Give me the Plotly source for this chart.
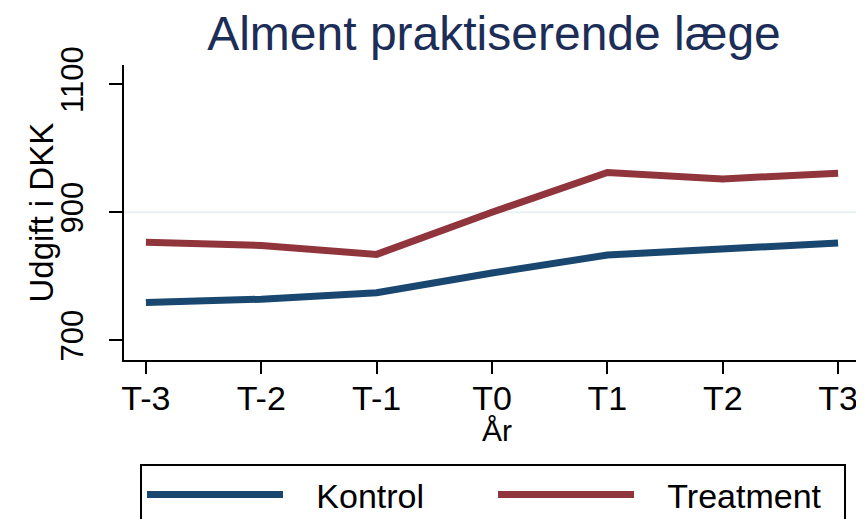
import plotly.graph_objects as go

periods = ["T-3", "T-2", "T-1", "T0", "T1", "T2", "T3"]
kontrol = [759, 764, 774, 805, 833, 842, 852]
treatment = [853, 848, 834, 900, 962, 952, 961]
y_ticks = [700, 900, 1100]
series_names = ["Kontrol", "Treatment"]

NAVY = "#1a476f"
MAROON = "#90353b"
FONT = "Liberation Sans, Arial, sans-serif"
PAD = "\u00a0\u00a0\u00a0"

W, H = 856, 511  # page body has an 8px margin
L, R, T, B = 116, 4, 57, 159
PW, PH = W - L - R, H - T - B

x_idx = list(range(len(periods)))

fig = go.Figure()
fig.add_trace(go.Scatter(x=x_idx, y=kontrol, mode="lines", name=PAD + series_names[0],
                         line=dict(color=NAVY, width=7)))
fig.add_trace(go.Scatter(x=x_idx, y=treatment, mode="lines", name=PAD + series_names[1],
                         line=dict(color=MAROON, width=7)))

fig.add_hline(y=900, line=dict(color="#eaf2f3", width=2), layer="below")

# axis titles as annotations for exact placement
fig.add_annotation(text="Udgift i DKK", textangle=-90, showarrow=False,
                   xref="paper", yref="paper", x=(33 - L) / PW, y=0.5,
                   xanchor="center", yanchor="middle",
                   font=dict(size=33, family=FONT, color="black"))
fig.add_annotation(text="År", showarrow=False,
                   xref="paper", yref="paper", x=(489 - L) / PW, y=(T + PH - 422) / PH,
                   xanchor="center", yanchor="middle",
                   font=dict(size=30, family=FONT, color="black"))

fig.update_layout(
    width=W, height=H,
    margin=dict(l=L, r=R, t=T, b=B, autoexpand=False),
    paper_bgcolor="white", plot_bgcolor="white",
    font=dict(family=FONT, color="black"),
    title=dict(text="Alment praktiserende læge", font=dict(size=48, color="#1c2d57", family=FONT),
               x=486/W, xanchor="center", xref="container",
               y=1 - 25/H, yanchor="middle", yref="container"),
    xaxis=dict(range=[-0.19, 6.19], tickvals=x_idx, ticktext=periods, automargin=False,
               showgrid=False, zeroline=False, showline=True, linecolor="black", linewidth=2,
               ticks="outside", ticklen=12, tickwidth=2, tickcolor="black", ticklabelstandoff=-5,
               tickfont=dict(size=34, family=FONT, color="black")),
    yaxis=dict(range=[669, 1130], tickvals=y_ticks, tickangle=-90, automargin=False,
               showgrid=False, zeroline=False, showline=True, linecolor="black", linewidth=2,
               ticks="outside", ticklen=13, tickwidth=2, tickcolor="black", ticklabelstandoff=14,
               tickfont=dict(size=31, family=FONT, color="black")),
    legend=dict(orientation="h", xref="container", yref="container",
                x=132/W, xanchor="left", y=1 - 456/H, yanchor="top",
                bordercolor="black", borderwidth=2, bgcolor="white",
                font=dict(size=34, family=FONT, color="black"),
                itemwidth=136, entrywidth=200, entrywidthmode="pixels"),
)

fig.write_html("out.html")
